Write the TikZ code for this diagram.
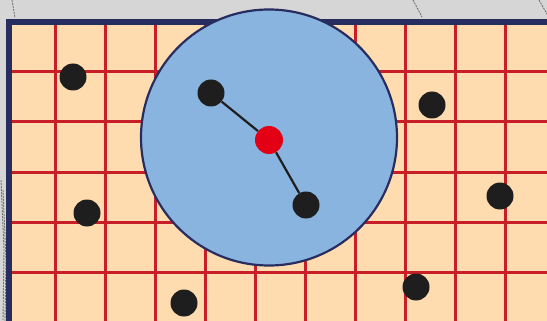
\documentclass[tikz,border=0pt]{standalone}
\usetikzlibrary{positioning}
\definecolor{sheetgrey}{RGB}{214,214,214}
\definecolor{paperpeach}{RGB}{254,220,176}
\definecolor{gridred}{RGB}{200,30,40}
\definecolor{framenavy}{RGB}{40,45,95}
\definecolor{discblue}{RGB}{138,180,224}
\definecolor{centrered}{RGB}{228,0,20}
\definecolor{dotblack}{RGB}{30,30,30}

\tikzset{
  particle/.style={circle, fill=dotblack, minimum size=27pt, inner sep=0pt},
  centre/.style={circle, fill=centrered, minimum size=28pt, inner sep=0pt},
  bond/.style={line width=2.2pt, dotblack},
  gridline/.style={gridred, line width=3pt},
  pencil/.style={gray!90!black, line width=0.9pt, dash pattern=on 2pt off 1pt},
}

\begin{document}
\begin{tikzpicture}[x=1pt, y=-1pt]
    \useasboundingbox (0,0) rectangle (547,321);

    % Background sheet
    \fill[sheetgrey] (0,0) rectangle (547,321);

    % Pencil marks
    \draw[pencil] (12,0) -- (15,18);
    \draw[pencil] (413,0) -- (422,17);
    \draw[pencil] (539,0) -- (547,14);
    \draw[pencil] (1,180) -- (4,250) -- (3,321);
    \draw[pencil] (3,190) -- (6,260) -- (5,321);

    % Paper
    \fill[paperpeach] (9,22) rectangle (547,321);

    % Grid
    \foreach \gx in {55,105,...,505} {
        \draw[gridline] (\gx,22) -- (\gx,321);
    }
    \foreach \gy in {72,122,...,272} {
        \draw[gridline] (9,\gy) -- (547,\gy);
    }

    % Frame
    \draw[framenavy, line width=5.5pt] (9,321) -- (9,22) -- (547,22);

    % Cutoff disc
    \draw[framenavy, line width=2.2pt, fill=discblue] (269,137.5) circle (128pt);

    % Particles
    \node[centre] (c) at (269,140) {};
    \node[particle] (n1) at (211,93) {};
    \node[particle] (n2) at (306,205) {};
    \node[particle] (p1) at (73,77) {};
    \node[particle] (p2) at (432,105) {};
    \node[particle] (p3) at (500,196) {};
    \node[particle] (p4) at (87,213) {};
    \node[particle] (p5) at (184,303) {};
    \node[particle] (p6) at (416,287) {};

    % Neighbour bonds
    \draw[bond] (c) -- (n1);
    \draw[bond] (c) -- (n2);
\end{tikzpicture}
\end{document}
